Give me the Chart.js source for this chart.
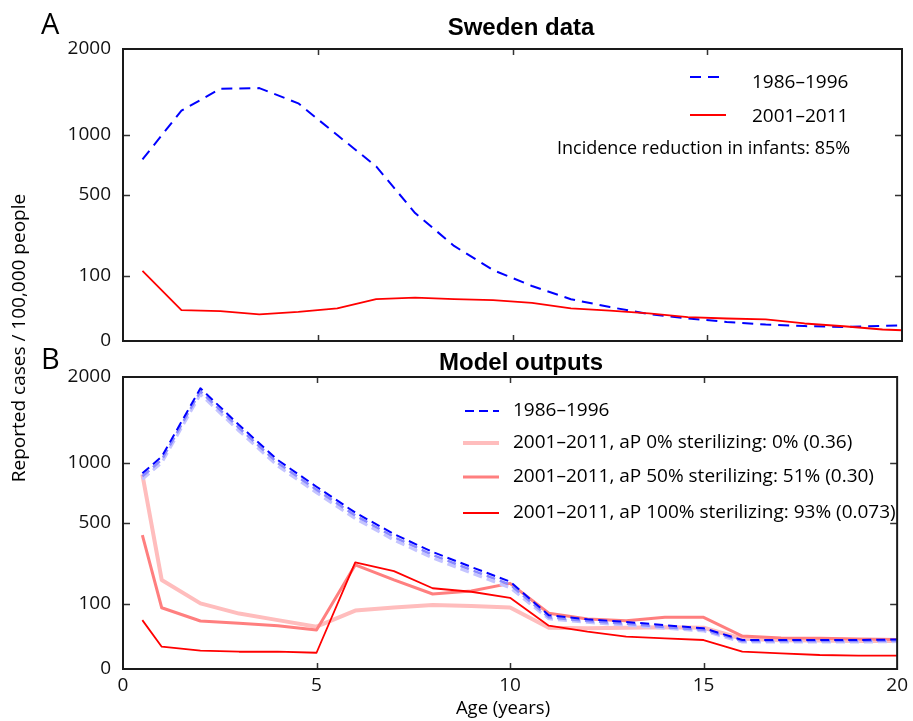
<!DOCTYPE html>
<html>
<head>
<meta charset="utf-8">
<script src="https://cdn.jsdelivr.net/npm/chart.js@4.4.1/dist/chart.umd.min.js"></script>
<style>
  html, body { margin:0; padding:0; background:#fff; }
  #wrap { position:relative; width:913px; height:721px; }
  #wrap canvas { position:absolute; left:0; top:0; }
</style>
</head>
<body>
<div id="wrap">
  <canvas id="cBottom" width="913" height="721"></canvas>
  <canvas id="cTop" width="913" height="721"></canvas>
</div>
<script>
// ---------------- DATA ----------------
const yTicks = [0, 100, 500, 1000, 2000];
const xTicks = [0, 5, 10, 15, 20];
const innerYTicks = [100, 500, 1000];
const innerXTicks = [5, 10, 15];

// Panel A: Sweden data
const swedenAges = [0.5,1.5,2.5,3.5,4.5,5.5,6.5,7.5,8.5,9.5,10.5,11.5,12.5,13.5,14.5,15.5,16.5,17.5,18.5,19.5,20];
const sweden1986 = [774,1244,1493,1500,1325,995,715,384,212,118,71,41,27,17,12,8.5,6.4,5.2,4.6,5.3,5.8];
const sweden2001 = [115,22.5,21,16.7,20,25,41,44,41,39,34,25,21.5,18,13.3,11.9,11,7.2,5.1,3.1,2.7];

// Panel B: Model outputs
const modelAges = [0.5,1,2,3,4,5,6,7,8,9,10,11,12,13,14,15,16,17,18,19,20];
const model1986dark  = [898,1057,1848,1396,1024,779,574,427,321,244,179,68,58,52,45,39,19.7,19.7,19.7,19.7,20.4];
const model1986mid   = [871,1027,1809,1362,995,754,553,409,305,230,167,63,54,48,41,36,18.4,18.4,18.4,18.4,19];
const model1986light = [844,998,1770,1328,966,729,531,390,289,216,155,59,51,45,39,34,17,17,17,17,17.6];
const modelAp0   = [889,186,101,72,56,42,80,89,96,93,89,40,38.8,40,41,40,21.5,19.5,19,18.5,18.4];
const modelAp50  = [421,88,54,49,44,35.7,254,186,132,143,172,73,58.6,54.7,62.7,62.7,25.5,22.5,22,21,20.5];
const modelAp100 = [56,11.7,7.9,7.0,7.0,6.2,267,225,153,140,119,44,32.6,24.5,22,19.7,7.0,5.8,4.6,4.2,4.2];

const topLegend = ['1986\u20131996', '2001\u20132011'];
const topNote = 'Incidence reduction in infants: 85%';
const bottomLegend = [
  '1986\u20131996',
  '2001\u20132011, aP 0% sterilizing: 0% (0.36)',
  '2001\u20132011, aP 50% sterilizing: 51% (0.30)',
  '2001\u20132011, aP 100% sterilizing: 93% (0.073)'
];

// ---------------- SQRT SCALE ----------------
class SqrtScale extends Chart.LinearScale {
  buildTicks() { return yTicks.map(v => ({ value: v })); }
  getPixelForValue(value) {
    const a = Math.sqrt(this.min), b = Math.sqrt(this.max);
    return this.getPixelForDecimal((Math.sqrt(Math.max(0, value)) - a) / (b - a));
  }
  getValueForPixel(pixel) {
    const a = Math.sqrt(this.min), b = Math.sqrt(this.max);
    const s = a + this.getDecimalForPixel(pixel) * (b - a);
    return s * s;
  }
}
SqrtScale.id = 'sqrt';
SqrtScale.defaults = {};
Chart.register(SqrtScale);

Chart.defaults.font.family = "'Open Sans', 'DejaVu Sans', sans-serif";
Chart.defaults.color = '#111';
Chart.defaults.animation = false;

const FONT = "'Open Sans', 'DejaVu Sans', sans-serif";
const BOLD = "bold 24px 'Liberation Sans', Arial, sans-serif";

function pts(xs, ys) { return xs.map((x, i) => ({ x: x, y: ys[i] })); }

function lineDs(label, xs, ys, color, width, dash) {
  return {
    label: label, data: pts(xs, ys), borderColor: color, backgroundColor: color,
    borderWidth: width, borderDash: dash || [], pointRadius: 0, tension: 0,
    fill: false, borderJoinStyle: 'round', borderCapStyle: 'butt'
  };
}

const decor = {
  id: 'decor',
  afterDraw(chart, args, o) {
    const ctx = chart.ctx, a = chart.chartArea;
    const xs = chart.scales.x, ys = chart.scales.y;
    ctx.save();
    // inward ticks
    ctx.strokeStyle = '#333'; ctx.lineWidth = 1.5;
    innerXTicks.forEach(v => {
      const px = Math.round(xs.getPixelForValue(v)) + 0.5;
      ctx.beginPath(); ctx.moveTo(px, a.top); ctx.lineTo(px, a.top + 6);
      ctx.moveTo(px, a.bottom); ctx.lineTo(px, a.bottom - 6); ctx.stroke();
    });
    innerYTicks.forEach(v => {
      const py = Math.round(ys.getPixelForValue(v)) + 0.5;
      ctx.beginPath(); ctx.moveTo(a.left, py); ctx.lineTo(a.left + 7, py);
      ctx.moveTo(a.right, py); ctx.lineTo(a.right - 7, py); ctx.stroke();
    });
    // frame
    ctx.strokeStyle = '#1a1a1a'; ctx.lineWidth = 2;
    ctx.strokeRect(a.left, a.top, a.right - a.left, a.bottom - a.top);
    // panel letter + title
    ctx.fillStyle = '#000';
    ctx.textBaseline = 'alphabetic';
    ctx.textAlign = 'left';
    ctx.font = "29px " + FONT;
    ctx.fillText(o.letter, 41, o.letterY);
    ctx.font = BOLD;
    ctx.textAlign = 'center';
    ctx.fillText(o.title, 521, o.titleY);
    // legend
    const ds = chart.data.datasets;
    o.legend.forEach(item => {
      const d = ds[item.ds];
      ctx.strokeStyle = d.borderColor; ctx.lineWidth = d.borderWidth;
      ctx.setLineDash(d.borderDash || []);
      ctx.beginPath(); ctx.moveTo(item.x0, item.y); ctx.lineTo(item.x1, item.y); ctx.stroke();
      ctx.setLineDash([]);
      ctx.fillStyle = '#000';
      ctx.font = "19px " + FONT;
      ctx.textAlign = 'left'; ctx.textBaseline = 'middle';
      ctx.fillText(item.text, item.tx, item.ty);
    });
    if (o.note) {
      ctx.font = "18px " + FONT; ctx.textAlign = 'left'; ctx.textBaseline = 'middle';
      ctx.fillText(o.note.text, o.note.x, o.note.y);
    }
    if (o.ylabel) {
      ctx.save();
      ctx.translate(20, 338);
      ctx.rotate(-Math.PI / 2);
      ctx.font = "19px " + FONT; ctx.textAlign = 'center'; ctx.textBaseline = 'middle';
      ctx.fillText(o.ylabel, 0, 0);
      ctx.restore();
    }
    if (o.xlabel) {
      ctx.font = "18.5px " + FONT; ctx.textAlign = 'center'; ctx.textBaseline = 'middle';
      ctx.fillText(o.xlabel, 503, 709);
    }
    ctx.restore();
  }
};

function yScale() {
  return {
    type: 'sqrt', min: 0, max: 2000,
    grid: { display: false, drawTicks: false }, border: { display: false },
    ticks: { font: { size: 19 }, color: '#111', padding: 12, callback: v => String(v), autoSkip: false },
    afterFit: s => { s.width = 123; }
  };
}

function fitArea(chart, t) {
  for (let i = 0; i < 4; i++) {
    const a = chart.chartArea, p = chart.options.layout.padding;
    const dl = t.left - a.left, dr = a.right - t.right, dt = t.top - a.top, db = a.bottom - t.bottom;
    if (Math.abs(dl) + Math.abs(dr) + Math.abs(dt) + Math.abs(db) < 0.5) break;
    p.left += dl; p.right += dr; p.top += dt; p.bottom += db;
    chart.update('none');
  }
}

// ---------------- TOP CHART ----------------
const topChart = new Chart(document.getElementById('cTop'), {
  type: 'line',
  data: {
    datasets: [
      lineDs(topLegend[1], swedenAges, sweden2001, '#ff0000', 1.8),
      lineDs(topLegend[0], swedenAges, sweden1986, '#0000ff', 2, [11, 7])
    ]
  },
  options: {
    responsive: false, animation: false,
    layout: { padding: { left: 0, right: 11, top: 49, bottom: 380 } },
    plugins: {
      legend: { display: false }, tooltip: { enabled: false },
      decor: {
        letter: 'A', letterY: 34, title: 'Sweden data', titleY: 35,
        legend: [
          { ds: 1, x0: 690, x1: 726, y: 77, text: topLegend[0], tx: 752, ty: 83 },
          { ds: 0, x0: 690, x1: 726, y: 115, text: topLegend[1], tx: 752, ty: 117 }
        ],
        note: { text: topNote, x: 557, y: 149 },
        ylabel: 'Reported cases / 100,000 people'
      }
    },
    scales: {
      x: { type: 'linear', min: 0, max: 20, display: false },
      y: yScale()
    }
  },
  plugins: [decor]
});
fitArea(topChart, { left: 123, right: 902, top: 49, bottom: 341 });

// ---------------- BOTTOM CHART ----------------
const bottomChart = new Chart(document.getElementById('cBottom'), {
  type: 'line',
  data: {
    datasets: [
      lineDs('1986\u20131996 (model, aP 100%)', modelAges, model1986dark, '#0000ff', 2, [9, 5]),
      lineDs('1986\u20131996 (model, aP 50%)', modelAges, model1986mid, '#8a8aff', 2.5, [9, 5]),
      lineDs('1986\u20131996 (model, aP 0%)', modelAges, model1986light, '#c4c4ff', 3, [9, 5]),
      lineDs(bottomLegend[3], modelAges, modelAp100, '#ff0000', 1.8),
      lineDs(bottomLegend[2], modelAges, modelAp50, '#ff7f7f', 3),
      lineDs(bottomLegend[1], modelAges, modelAp0, '#ffbdbd', 4)
    ]
  },
  options: {
    responsive: false, animation: false,
    layout: { padding: { left: 0, right: 11, top: 377, bottom: 0 } },
    plugins: {
      legend: { display: false }, tooltip: { enabled: false },
      decor: {
        letter: 'B', letterY: 369, title: 'Model outputs', titleY: 370,
        legend: [
          { ds: 0, x0: 465, x1: 499, y: 411, text: bottomLegend[0], tx: 513, ty: 411 },
          { ds: 5, x0: 463, x1: 499, y: 443, text: bottomLegend[1], tx: 513, ty: 443 },
          { ds: 4, x0: 463, x1: 499, y: 477, text: bottomLegend[2], tx: 513, ty: 477 },
          { ds: 3, x0: 463, x1: 499, y: 513, text: bottomLegend[3], tx: 513, ty: 513 }
        ],
        xlabel: 'Age (years)'
      }
    },
    scales: {
      x: {
        type: 'linear', min: 0, max: 20,
        grid: { display: false, drawTicks: false }, border: { display: false },
        ticks: { font: { size: 19 }, color: '#111', padding: 5, autoSkip: false, maxRotation: 0, callback: v => String(v) },
        afterBuildTicks: s => { s.ticks = xTicks.map(v => ({ value: v })); },
        afterFit: s => { s.height = 52; }
      },
      y: yScale()
    }
  },
  plugins: [decor]
});
fitArea(bottomChart, { left: 123, right: 902, top: 377, bottom: 669 });
</script>
</body>
</html>
